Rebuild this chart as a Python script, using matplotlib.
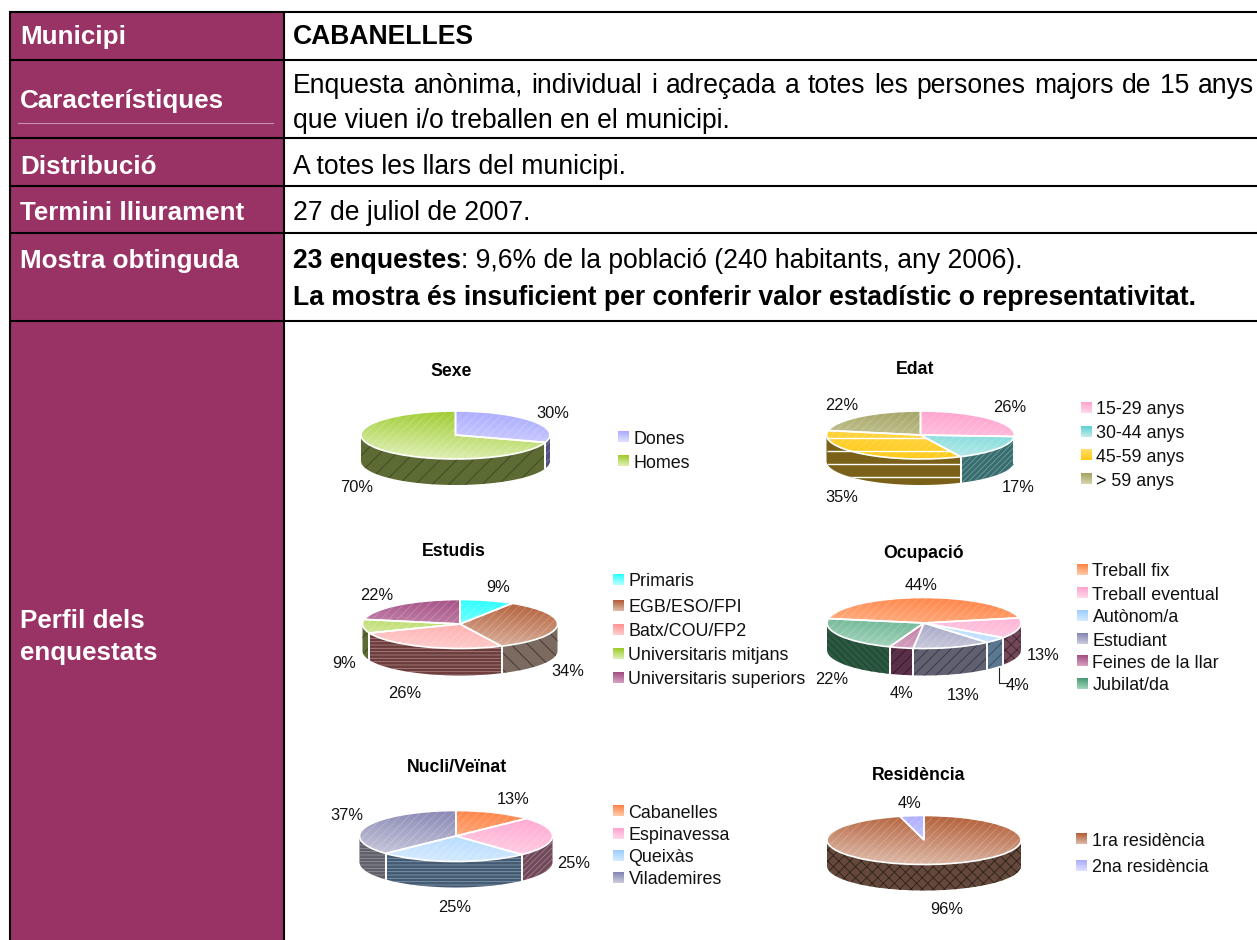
import matplotlib
matplotlib.use('Agg')
import matplotlib.pyplot as plt
import numpy as np
from matplotlib.colors import LinearSegmentedColormap

W, H = 1257, 940
plt.rcParams['font.family'] = ['Liberation Sans', 'DejaVu Sans']
plt.rcParams['hatch.linewidth'] = 0.6

# taula
row_lines = [12, 60, 137.5, 186, 233, 321]
row_labels = ['Municipi', 'Característiques', 'Distribució', 'Termini lliurament', 'Mostra obtinguda']
label_y = [44, 108, 174, 220, 268]
PURPLE = '#993366'

# dades dels pastissos (valors en %)
sexe_noms = ['Dones', 'Homes']
sexe_vals = [30, 70]
edat_noms = ['15-29 anys', '30-44 anys', '45-59 anys', '> 59 anys']
edat_vals = [26, 17, 35, 22]
estudis_noms = ['Primaris', 'EGB/ESO/FPI', 'Batx/COU/FP2', 'Universitaris mitjans', 'Universitaris superiors']
estudis_vals = [9, 34, 26, 9, 22]
ocup_noms = ['Treball fix', 'Treball eventual', 'Autònom/a', 'Estudiant', 'Feines de la llar', 'Jubilat/da']
ocup_vals = [44, 13, 4, 13, 4, 22]
nucli_noms = ['Cabanelles', 'Espinavessa', 'Queixàs', 'Vilademires']
nucli_vals = [13, 25, 25, 37]
resid_noms = ['1ra residència', '2na residència']
resid_vals = [96, 4]

# (color superior, color inferior) de la cara de dalt
ORANGE = ('#ff7f40', '#ffd0b0')
PINK = ('#ffa0cc', '#ffdcec')
LBLUE = ('#99ccff', '#d8ecff')
SLATE = ('#8080b0', '#d0d0e0')
MAUVE = ('#a04880', '#d8a8c4')
GREEN = ('#409870', '#a8d8c0')
BROWN = ('#b05830', '#e0c0b0')
PERI = ('#a8a8ff', '#e4e4ff')
LIME = ('#98c820', '#e4f2c0')

charts = [
    dict(title='Sexe', title_xy=(451, 370), vals=sexe_vals, names=sexe_noms, geom=(455.5, 435, 94.5, 24, 26), start=0,
         tops=[PERI, LIME],
         sides=[('#50507c', '#8080a8', '////'), ('#5c6a34', '#3c4620', '//')],
         pct_xy=[(553, 412), (357, 486)],
         leg_x=618, leg_y=[437, 461]),
    dict(title='Edat', title_xy=(915, 367), vals=edat_vals, names=edat_noms, geom=(920.5, 435, 94, 24, 26), start=0,
         tops=[PINK, ('#58d0d0', '#c8eeee'), ('#ffe070', '#ffc810'), ('#a0a060', '#d8d8b0')],
         bands=(2, [438, 451, 464, 477]),
         sides=[('#7a4060', '#a06080', '////'), ('#386c6e', '#70a0a0', '//////'), ('#7a6018', '#7a6018', ''), ('#6a6030', '#8a8050', '////')],
         pct_xy=[(1010, 405), (1018, 486), (842, 496), (842, 403)],
         leg_x=1081, leg_y=[408, 432, 455, 479]),
    dict(title='Estudis', title_xy=(454, 550), vals=estudis_vals, names=estudis_noms, geom=(460, 624, 97.5, 24.5, 27), start=0,
         tops=[('#20ffff', '#c0ffff'), BROWN, ('#ff9090', '#ffd0d0'), LIME, MAUVE],
         sides=[('#208080', '#60a0a0', '////'), ('#7a6a60', '#403028', '\\\\'), ('#6c3c3c', '#a88080', '-----'), ('#5c6a34', '#3c4620', '//'), ('#603050', '#805070', '////')],
         pct_xy=[(498, 586), (568, 669), (405, 692), (344, 662), (377, 594)],
         leg_x=613, leg_y=[580, 606, 630, 654, 678]),
    dict(title='Ocupació', title_xy=(924, 552), vals=ocup_vals, names=ocup_noms, geom=(924, 623, 97, 25.5, 27), start=-80,
         tops=[ORANGE, PINK, LBLUE, SLATE, MAUVE, GREEN],
         sides=[('#804020', '#a06040', '////'), ('#704858', '#402030', 'xxx'), ('#5c7890', '#304860', '///'), ('#606070', '#343448', '///'), ('#5a3048', '#301828', '///'), ('#2c5840', '#184030', '\\\\\\\\\\')],
         pct_xy=[(921, 583), (1043, 654), (1018, 684), (963, 693), (901, 691), (832, 678)],
         leg_x=1077, leg_y=[570, 593, 616, 639, 661, 684]),
    dict(title='Nucli/Veïnat', title_xy=(457, 765), vals=nucli_vals, names=nucli_noms, geom=(456, 836, 96.5, 25.5, 26), start=0,
         tops=[ORANGE, PINK, LBLUE, SLATE],
         sides=[('#804020', '#a06040', '////'), ('#704858', '#a08090', '//////'), ('#445a70', '#8098b0', '-----'), ('#606068', '#9090a0', '-----')],
         pct_xy=[(513, 797), (574, 862), (455, 906), (347, 814)],
         leg_x=613, leg_y=[811, 834, 856, 878]),
    dict(title='Residència', title_xy=(919, 774), vals=resid_vals, names=resid_noms, geom=(924, 840, 97, 24.5, 26), start=0,
         tops=[BROWN, PERI],
         sides=[('#64483c', '#2c2018', 'xxx'), ('#50507c', '#8080a8', '////')],
         pct_xy=[(947, 907), (909, 801)],
         leg_x=1076, leg_y=[839, 866]),
]

fig = plt.figure(figsize=(W / 100, H / 100), dpi=100)
bg = fig.add_axes([0, 0, 1, 1])
bg.set_xlim(0, W)
bg.set_ylim(H, 0)
bg.axis('off')

# fons lila i linies
bg.fill_between([10, 283], 12, H, color=PURPLE, lw=0)
for y in row_lines:
    bg.plot([9, W], [y, y], color='black', lw=1.5, solid_capstyle='butt')
bg.plot([9.5, 9.5], [12, H], color='black', lw=1.5, solid_capstyle='butt')
bg.plot([283.5, 283.5], [12, H], color='black', lw=1.5, solid_capstyle='butt')
bg.plot([18, 273], [122.5, 122.5], color='#c890b0', lw=0.8)

FS = 19.1
for lab, y in zip(row_labels, label_y):
    bg.text(20, y, lab, color='white', fontsize=18.7, fontweight='bold', va='baseline')
bg.text(20, 628, 'Perfil dels', color='white', fontsize=18.7, fontweight='bold', va='baseline')
bg.text(20, 660, 'enquestats', color='white', fontsize=18.7, fontweight='bold', va='baseline')

renderer = fig.canvas.get_renderer()


def text_w(s, **kw):
    t = bg.text(0, 0, s, fontsize=FS, **kw)
    w = t.get_window_extent(renderer).width
    t.remove()
    return w


# primera linia justificada
words = 'Enquesta anònima, individual i adreçada a totes les persones majors de 15 anys'.split()
widths = [text_w(w) for w in words]
gap = (1254 - 293 - sum(widths)) / (len(words) - 1)
x = 293
for w, wd in zip(words, widths):
    bg.text(x, 93, w, fontsize=FS, va='baseline')
    x += wd + gap

bg.text(293, 44, 'CABANELLES', fontsize=FS, fontweight='bold', va='baseline')
bg.text(293, 128, 'que viuen i/o treballen en el municipi.', fontsize=FS, va='baseline')
bg.text(293, 174, 'A totes les llars del municipi.', fontsize=FS, va='baseline')
bg.text(293, 220, '27 de juliol de 2007.', fontsize=FS, va='baseline')
bold_part = '23 enquestes'
bg.text(293, 268, bold_part, fontsize=FS, fontweight='bold', va='baseline')
bg.text(293 + text_w(bold_part, fontweight='bold'), 268, ': 9,6% de la població (240 habitants, any 2006).', fontsize=FS, va='baseline')
bg.text(293, 305, 'La mostra és insuficient per conferir valor estadístic o representativitat.',
        fontsize=FS, fontweight='bold', va='baseline')


def gradient(ax, pair, extent, tilt=0.25):
    cmap = LinearSegmentedColormap.from_list('g', pair)
    yy, xx = np.mgrid[0:1:64j, 0:1:64j]
    z = (yy + tilt * (1 - xx)) / (1 + tilt)
    return ax.imshow(z, cmap=cmap, extent=extent, aspect='auto', vmin=0, vmax=1, zorder=2, origin='upper')


def draw_pie(c):
    cx, cy, rx, ry, depth = c['geom']
    d = depth / ry
    ax = fig.add_axes([(cx - rx - 3) / W, 1 - (cy + ry + depth + 3) / H,
                       (2 * rx + 6) / W, (2 * ry + depth + 6) / H])
    wedges, _ = ax.pie(c['vals'], startangle=90 - c['start'], counterclock=False,
                       wedgeprops=dict(edgecolor='white', linewidth=1.2, zorder=3), radius=1)
    band_i, band_y = c.get('bands', (None, []))
    band_y = [(cy - y) / ry for y in band_y]
    # cara de dalt amb degradat
    for i, (wd, pair) in enumerate(zip(wedges, c['tops'])):
        wd.set_facecolor('none')
        im = gradient(ax, pair, (-1, 1, -1, 1))
        im.set_clip_path(wd)
        if i == band_i:
            ax.hlines(band_y, -1, 1, color='white', lw=1, zorder=2.8).set_clip_path(wd)
    # ratlles fines sobre la cara de dalt
    ax.pie(c['vals'], startangle=90 - c['start'], counterclock=False,
           wedgeprops=dict(facecolor='none', edgecolor=(1, 1, 1, 0.22), hatch='////', linewidth=0, zorder=2.5))
    # lateral, nomes la meitat de davant
    edges = c['start'] + np.cumsum([0] + list(c['vals'])) * 3.6
    for i, (a0, a1, (col, hc, hatch)) in enumerate(zip(edges[:-1], edges[1:], c['sides'])):
        for shift in (0, 360):
            lo = max(a0 + shift, 90)
            hi = min(a1 + shift, 270)
            if hi <= lo:
                continue
            t = np.radians(np.linspace(lo, hi, 60))
            xs = np.sin(t)
            ys = np.cos(t)
            px = np.r_[xs, xs[::-1]]
            py = np.r_[ys, ys[::-1] - d]
            poly = ax.fill(px, py, facecolor=col, edgecolor=hc, hatch=hatch, linewidth=0, zorder=1)[0]
            if i == band_i:
                ax.hlines(band_y, -1, 1, color='white', lw=1, zorder=1.2).set_clip_path(poly)
            for b in (lo, hi):
                if 90 < b < 270:
                    bx = np.sin(np.radians(b))
                    by = np.cos(np.radians(b))
                    ax.plot([bx, bx], [by, by - d], color='white', lw=1.2, zorder=1.5)
    ax.set_aspect('auto')
    ax.set_xlim(-1 - 3 / rx, 1 + 3 / rx)
    ax.set_ylim(-1 - d - 3 / ry, 1 + 3 / ry)
    ax.patch.set_alpha(0)

    # titol, percentatges i llegenda
    tx, ty = c['title_xy']
    bg.text(tx, ty + 2, c['title'], fontsize=12.7, fontweight='bold', ha='center', va='center')
    for v, (px_, py_) in zip(c['vals'], c['pct_xy']):
        bg.text(px_, py_ + 2, f'{v}%', fontsize=11.8, ha='center', va='center', color='#111111')
    for nom, y, pair in zip(c['names'], c['leg_y'], c['tops']):
        sx = c['leg_x']
        gradient(bg, pair, (sx, sx + 11, y + 5.5, y - 5.5), tilt=0.1)
        bg.text(sx + 15.5, y + 2, nom, fontsize=12.85, va='center', color='#111111')


for c in charts:
    draw_pie(c)

# linia guia del 4% d'Autònom/a
bg.plot([999, 999, 1007], [668, 683, 683], color='#222222', lw=0.8)

bg.set_xlim(0, W)
bg.set_ylim(H, 0)

fig.savefig('out.png', dpi=100)
